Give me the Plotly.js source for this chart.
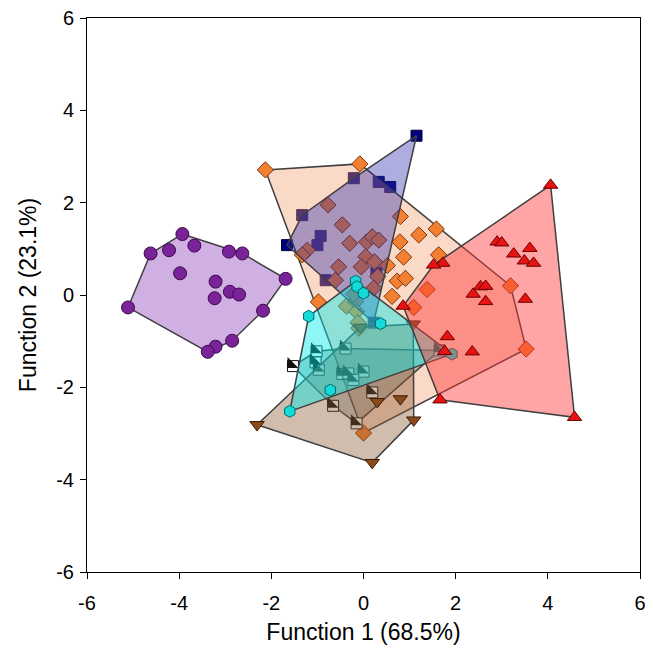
<!DOCTYPE html>
<html><head><meta charset="utf-8">
<script src="https://cdn.plot.ly/plotly-3.0.1.min.js"></script>
<style>html,body{margin:0;padding:0;background:#fff}#chart{width:653px;height:651px}</style>
</head><body><div id="chart"></div>
<script>
// ---- data (Function 1, Function 2 scores per group) ----
const purpleX = [-3.93,-4.62,-4.22,-3.67,-2.92,-2.63,-1.69,-3.98,-3.21,-2.90,-2.70,-3.23,-5.11,-2.18,-2.85,-3.21,-3.38];
const purpleY = [ 1.32, 0.90, 0.97, 1.07, 0.94, 0.90, 0.35, 0.47, 0.29, 0.07, 0.01,-0.07,-0.27,-0.34,-0.99,-1.12,-1.23];

const navyX = [1.15,-0.21,0.33,0.58,-1.66,-1.33,-0.93,-1.00,-0.82,0.28,0.22];
const navyY = [3.45, 2.53,2.45,2.34, 1.08, 1.73, 1.28, 1.08, 0.32,0.48,-0.60];

const orangeX = [-2.13,-0.08,-0.77,-0.46,-0.30,0.07,0.19,0.33,0.05,0.24,0.52,-0.05,0.31,-0.54,-0.61,-1.22,-1.33,0.22,0.80,1.20,1.58,0.79,0.87,0.73,0.91,0.62,1.38,-0.98,1.09,1.63,3.19,3.53,0.00,-0.37,-0.17,-0.15,-0.21,-0.10,-0.12];
const orangeY = [ 2.71, 2.84, 1.95, 1.52, 1.12,1.15,1.26,1.19,0.83,0.72,0.64, 0.61,0.40, 0.61, 0.32, 0.97, 0.87,0.15,1.70,1.30,1.43,1.15,0.82,0.30,0.36,-0.03,0.12,-0.15,-0.27,0.87,0.20,-1.17,-2.99,-0.24,-0.14,-0.36,0.02,-0.72,-0.60];

const redX = [4.06,2.90,3.00,3.26,3.61,3.49,3.69,2.54,2.65,2.38,2.65,3.51,1.72,1.52,0.86,1.82,2.36,1.66,4.58,1.76];
const redY = [2.38,1.15,1.13,0.89,1.01,0.74,0.69,0.18,0.19,0.02,-0.14,-0.09,0.69,0.65,-0.24,-0.90,-1.23,-2.27,-2.65,-1.22];

const cyanX = [-1.19,-0.17,-0.14,0.00,0.37,-0.72,-1.60,1.92];
const cyanY = [-0.46, 0.30, 0.18,0.04,-0.62,-2.06,-2.52,-1.28];

const halfX = [-1.53,-1.02,-1.04,-0.97,-0.39,-0.46,-0.33,0.00,-0.22,-0.66,-0.15,0.19,1.65];
const halfY = [-1.54,-1.22,-1.46,-1.62,-1.16,-1.71,-1.70,-1.66,-1.84,-2.40,-2.78,-2.11,-1.20];

const brownX = [-2.31,0.19,1.09,0.80,0.30,1.08,-0.07];
const brownY = [-2.81,-3.63,-2.71,-2.25,-2.31,-0.63,-0.70];

const xTicks = [-6,-4,-2,0,2,4,6];
const yTicks = [-6,-4,-2,0,2,4,6];
const xTitle = 'Function 1 (68.5%)';
const yTitle = 'Function 2 (23.1%)';

// ---- convex hull (monotone chain) computed from the group's points ----
function hull(xs, ys) {
  const p = xs.map((x, i) => [x, ys[i]]).sort((a, b) => a[0] - b[0] || a[1] - b[1]);
  const cross = (o, a, b) => (a[0]-o[0])*(b[1]-o[1]) - (a[1]-o[1])*(b[0]-o[0]);
  const lo = [], up = [];
  for (const q of p) { while (lo.length >= 2 && cross(lo[lo.length-2], lo[lo.length-1], q) <= 0) lo.pop(); lo.push(q); }
  for (let i = p.length-1; i >= 0; i--) { const q = p[i]; while (up.length >= 2 && cross(up[up.length-2], up[up.length-1], q) <= 0) up.pop(); up.push(q); }
  const h = lo.slice(0, -1).concat(up.slice(0, -1)); h.push(h[0]);
  return { x: h.map(v => v[0]), y: h.map(v => v[1]) };
}

const edge = { color: '#3f3f3f', width: 1.5 };
function hullTrace(xs, ys, fill, ax) {
  const h = hull(xs, ys);
  return Object.assign({ x: h.x, y: h.y, type: 'scatter', mode: 'lines', fill: 'toself',
    fillcolor: fill, line: edge, hoverinfo: 'skip', showlegend: false }, ax || {});
}
function ptTrace(xs, ys, sym, size, col, lineCol, ax) {
  return Object.assign({ x: xs, y: ys, type: 'scatter', mode: 'markers', showlegend: false,
    marker: { symbol: sym, size: size, color: col, line: { color: lineCol, width: 1 } } }, ax || {});
}
const A2 = { xaxis: 'x2', yaxis: 'y2' };
const A3 = { xaxis: 'x3', yaxis: 'y3' };

const SQ = 11;              // half-filled square size (px)
const TRI = SQ / 0.9;       // matching right triangle size
const shiftPx = SQ / 6;     // triangle-sw is drawn off-centre; compensate
const pxPerUnit = 553 / 12;
const d = shiftPx / pxPerUnit;

const traces = [
  hullTrace(purpleX, purpleY, 'rgba(150,80,190,0.45)'),
  ptTrace(purpleX, purpleY, 'circle', 13, '#7a2399', '#3a0a4a'),
  ptTrace(navyX, navyY, 'square', 11, '#00007e', '#000035'),
  hullTrace(orangeX, orangeY, 'rgba(245,150,100,0.36)'),
  ptTrace(orangeX, orangeY, 'diamond', 12.5, '#f28030', '#7a3510'),
  hullTrace(navyX, navyY, 'rgba(40,40,170,0.38)'),
  hullTrace(halfX, halfY, 'rgba(95,110,110,0.36)'),
  ptTrace(halfX, halfY, 'square', SQ, '#ffffff', '#111111'),
  // black lower-left halves of the half-filled squares
  Object.assign({ x: halfX, y: halfY, type: 'scatter', mode: 'markers', showlegend: false, hoverinfo: 'skip',
    marker: { symbol: 'triangle-sw', size: TRI, color: '#111111', line: { width: 0 } } }, A2),
  hullTrace(brownX, brownY, 'rgba(140,90,50,0.40)', A3),
  ptTrace(brownX, brownY, 'triangle-down', 12.5, '#8b4a1a', '#3a1a05', A3),
  hullTrace(cyanX, cyanY, 'rgba(0,235,235,0.44)', A3),
  ptTrace(cyanX, cyanY, 'hexagon', 12, '#14dada', '#006a6a', A3),
  hullTrace(redX, redY, 'rgba(255,55,55,0.45)', A3),
  ptTrace(redX, redY, 'triangle-up', 12.5, '#e81212', '#6a0000', A3)
];

const font = { family: 'Liberation Sans, Arial, sans-serif', color: '#000' };
const baseAxis = {
  range: [-6, 6], tickvals: xTicks, ticktext: xTicks.map(String), showgrid: false, zeroline: false,
  showline: true, mirror: true, linecolor: '#000', linewidth: 1, ticks: 'outside', ticklen: 6,
  tickwidth: 1, tickcolor: '#000', tickfont: Object.assign({ size: 20 }, font), automargin: false
};
const hidden = { showgrid: false, zeroline: false, showline: false, showticklabels: false, ticks: '', fixedrange: true };

const layout = {
  width: 653, height: 651,
  margin: { l: 87, r: 13, t: 18, b: 79 },
  paper_bgcolor: '#fff', plot_bgcolor: '#fff',
  font: font,
  showlegend: false,
  xaxis: Object.assign({}, baseAxis, { ticklabelstandoff: 7,
    title: { text: xTitle, font: Object.assign({ size: 23 }, font), standoff: 10 } }),
  yaxis: Object.assign({}, baseAxis, { tickvals: yTicks, ticktext: yTicks.map(String), ticklabelstandoff: 2,
    title: { text: yTitle, font: Object.assign({ size: 23 }, font), standoff: 13 } }),
  xaxis2: Object.assign({}, hidden, { overlaying: 'x', range: [-6 + d, 6 + d] }),
  yaxis2: Object.assign({}, hidden, { overlaying: 'y', range: [-6 - d, 6 - d] }),
  xaxis3: Object.assign({}, hidden, { overlaying: 'x', range: [-6, 6] }),
  yaxis3: Object.assign({}, hidden, { overlaying: 'y', range: [-6, 6] })
};

Plotly.newPlot('chart', traces, layout, { displayModeBar: false, staticPlot: true });
</script>
</body></html>
